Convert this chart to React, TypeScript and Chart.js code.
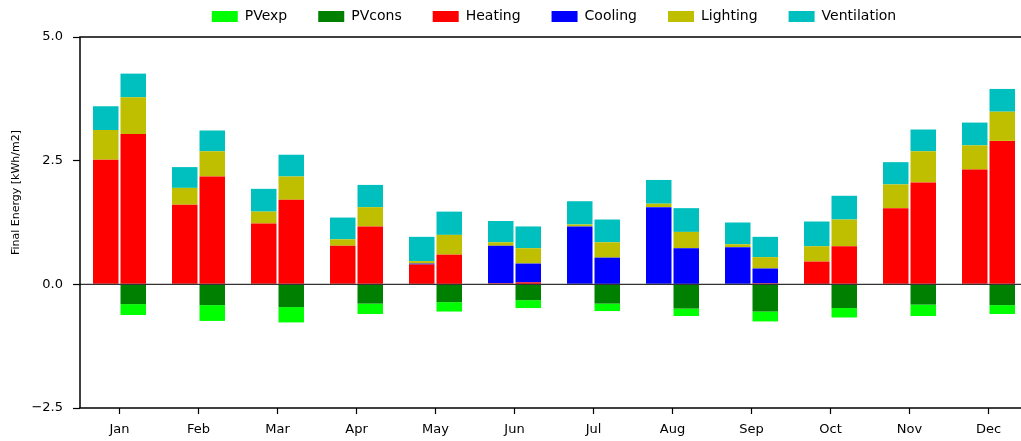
import React, { useEffect, useRef } from "react";
import { Chart, registerables } from "chart.js";

Chart.register(...registerables);

// ---- data (kWh/m2) ----
const months = ["Jan", "Feb", "Mar", "Apr", "May", "Jun", "Jul", "Aug", "Sep", "Oct", "Nov", "Dec"];

// left bar of each month
const heatingA = [2.52, 1.61, 1.23, 0.78, 0.40, 0.02, 0, 0, 0, 0.46, 1.54, 2.32];
const coolingA = [0, 0, 0, 0, 0.02, 0.76, 1.17, 1.56, 0.75, 0, 0, 0];
const lightingA = [0.60, 0.34, 0.24, 0.13, 0.05, 0.07, 0.04, 0.07, 0.06, 0.31, 0.48, 0.49];
const ventilationA = [0.48, 0.42, 0.46, 0.44, 0.49, 0.43, 0.47, 0.48, 0.44, 0.50, 0.45, 0.46];

// right bar of each month
const heatingB = [3.04, 2.18, 1.71, 1.17, 0.60, 0.04, 0, 0, 0.02, 0.77, 2.06, 2.90];
const coolingB = [0, 0, 0, 0, 0, 0.38, 0.54, 0.73, 0.30, 0, 0, 0];
const lightingB = [0.74, 0.51, 0.47, 0.39, 0.40, 0.31, 0.31, 0.33, 0.23, 0.54, 0.63, 0.59];
const ventilationB = [0.48, 0.42, 0.44, 0.45, 0.47, 0.44, 0.46, 0.48, 0.41, 0.48, 0.44, 0.46];
const pvCons = [-0.40, -0.42, -0.46, -0.39, -0.36, -0.32, -0.39, -0.49, -0.55, -0.48, -0.41, -0.42];
const pvExp = [-0.22, -0.32, -0.31, -0.21, -0.19, -0.16, -0.15, -0.15, -0.20, -0.19, -0.23, -0.18];

const yTicks = [-2.5, 0, 2.5, 5.0];
const yTitle = "Final Energy [kWh/m2]";

const C_LIME = "#00ff00";
const C_GREEN = "#008000";
const C_RED = "#ff0000";
const C_BLUE = "#0000ff";
const C_OLIVE = "#bfbf00";
const C_CYAN = "#00bfbf";

const FONT = "'DejaVu Sans', sans-serif";

export default function App() {
  const ref = useRef<HTMLCanvasElement>(null);

  useEffect(() => {
    const canvas = ref.current;
    if (!canvas) return;

    const mk = (label: string, data: number[], color: string, stack: string, inLegend: boolean, rank: number) => ({
      label,
      data,
      backgroundColor: color,
      borderWidth: 0,
      stack,
      inLegend,
      rank,
    });

    const datasets: any[] = [
      mk("Heating", heatingA, C_RED, "A", true, 2),
      mk("Cooling", coolingA, C_BLUE, "A", true, 3),
      mk("Lighting", lightingA, C_OLIVE, "A", true, 4),
      mk("Ventilation", ventilationA, C_CYAN, "A", true, 5),
      mk("PVcons", pvCons, C_GREEN, "B", true, 1),
      mk("PVexp", pvExp, C_LIME, "B", true, 0),
      mk("Heating", heatingB, C_RED, "B", false, 10),
      mk("Cooling", coolingB, C_BLUE, "B", false, 11),
      mk("Lighting", lightingB, C_OLIVE, "B", false, 12),
      mk("Ventilation", ventilationB, C_CYAN, "B", false, 13),
    ];

    const legendFit = {
      id: "legendFit",
      beforeInit(chart: any) {
        const leg = chart.legend;
        if (!leg) return;
        const orig = leg.fit;
        leg.fit = function () {
          orig.call(this);
          this.height = 58.5;
        };
      },
    };

    const frame = {
      id: "frame",
      afterDatasetsDraw(chart: any) {
        const { ctx, chartArea: a, scales } = chart;
        const y0 = scales.y.getPixelForValue(0);
        const line = (x1: number, y1: number, x2: number, y2: number) => {
          ctx.beginPath();
          ctx.moveTo(x1, y1);
          ctx.lineTo(x2, y2);
          ctx.stroke();
        };
        ctx.save();
        ctx.strokeStyle = "#333333";
        ctx.lineWidth = 1.3;
        line(a.left, y0, a.right, y0);
        ctx.strokeStyle = "#000000";
        ctx.lineWidth = 1.5;
        line(a.left - 0.75, a.top, a.right + 0.75, a.top);
        line(a.left - 0.75, a.bottom, a.right + 0.75, a.bottom);
        line(a.left, a.top, a.left, a.bottom);
        line(a.right, a.top, a.right, a.bottom);
        ctx.restore();
      },
      afterDraw(chart: any) {
        const { ctx, chartArea: a } = chart;
        ctx.save();
        ctx.translate(16.5, (a.top + a.bottom) / 2 - 30);
        ctx.rotate(-Math.PI / 2);
        ctx.fillStyle = "#000";
        ctx.font = `11px ${FONT}`;
        ctx.textAlign = "center";
        ctx.textBaseline = "middle";
        ctx.fillText(yTitle, 0, 0);
        ctx.restore();
      },
    };

    const chart = new Chart(canvas, {
      type: "bar",
      data: { labels: months, datasets },
      plugins: [legendFit, frame],
      options: {
        responsive: false,
        animation: false,
        datasets: {
          bar: { categoryPercentage: 0.696, barPercentage: 0.927 },
        },
        layout: { padding: { top: -21.5, right: 2, left: 0, bottom: 0 } },
        plugins: {
          legend: {
            position: "top",
            fullSize: false,
            labels: {
              boxWidth: 26,
              boxHeight: 11,
              padding: 31,
              color: "#000",
              font: { family: FONT, size: 14 },
              filter: (item: any, data: any) => data.datasets[item.datasetIndex].inLegend,
              sort: (a: any, b: any, data: any) =>
                data.datasets[a.datasetIndex].rank - data.datasets[b.datasetIndex].rank,
            },
          },
          tooltip: { enabled: false },
        },
        scales: {
          x: {
            stacked: true,
            grid: {
              display: true,
              offset: false,
              drawOnChartArea: false,
              tickLength: 6,
              tickColor: "#000",
              tickWidth: 1.2,
            },
            border: { display: false },
            ticks: { color: "#000", font: { family: FONT, size: 13 }, padding: 8, maxRotation: 0 },
            afterFit: (s: any) => {
              s.height = 33;
            },
          },
          y: {
            stacked: true,
            min: yTicks[0],
            max: yTicks[yTicks.length - 1],
            afterBuildTicks: (s: any) => {
              s.ticks = yTicks.map((v) => ({ value: v }));
            },
            ticks: {
              color: "#000",
              font: { family: FONT, size: 13 },
              padding: 10,
              callback: (v: any) => {
                const n = Number(v);
                return (n < 0 ? "\u2212" : "") + Math.abs(n).toFixed(1);
              },
            },
            grid: { display: true, drawOnChartArea: false, tickLength: 7, tickColor: "#000", tickWidth: 1.2 },
            border: { display: false },
            title: { display: false },
            afterFit: (s: any) => {
              s.width = 80;
            },
          },
        },
      } as any,
    });

    return () => chart.destroy();
  }, []);

  return (
    <div style={{ position: "fixed", left: 0, top: 0, width: 1021, height: 441, overflow: "hidden", background: "#fff" }}>
      <canvas ref={ref} width={1030} height={441} style={{ display: "block", width: 1030, height: 441 }} />
    </div>
  );
}
